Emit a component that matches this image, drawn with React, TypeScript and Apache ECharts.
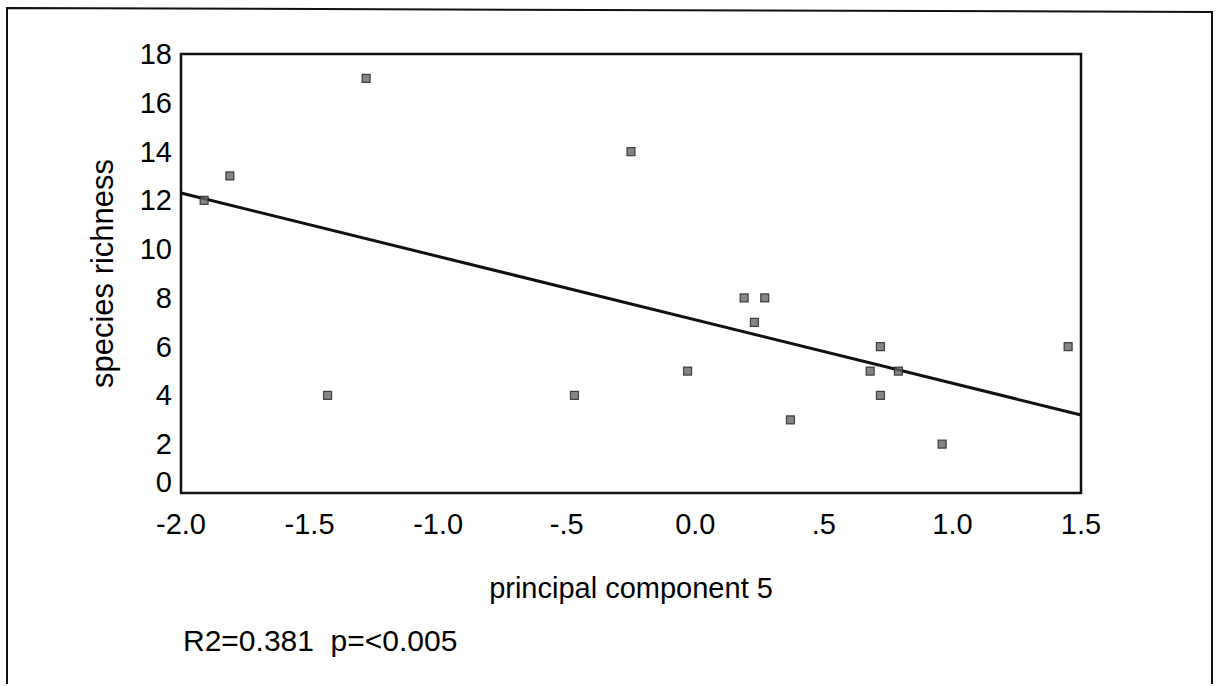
import React, { useEffect, useRef } from "react";
import * as echarts from "echarts";

const pcScores = [-1.91, -1.81, -1.28, -1.43, -0.47, -0.25, 0.19, 0.27, 0.23, 0.72, 1.45, -0.03, 0.68, 0.79, 0.72, 0.37, 0.96];
const richness = [12, 13, 17, 4, 4, 14, 8, 8, 7, 6, 6, 5, 5, 5, 4, 3, 2];
const fitX = [-2.0, 1.5];
const fitY = [12.3, 3.2];
const xTickLabels = ["-2.0", "-1.5", "-1.0", "-.5", "0.0", ".5", "1.0", "1.5"];
const yTickValues = [0, 2, 4, 6, 8, 10, 12, 14, 16, 18];
const xAxisTitle = "principal component 5";
const yAxisTitle = "species richness";
const statsNote = "R2=0.381  p=<0.005";

const FONT = "'Liberation Sans', Arial, sans-serif";

export default function App() {
  const ref = useRef<HTMLDivElement>(null);
  useEffect(() => {
    document.body.style.margin = "0";
    const chart = echarts.init(ref.current!, null, { renderer: "svg" });
    const points = pcScores.map((x, i) => [x, richness[i]]);
    const fit = fitX.map((x, i) => [x, fitY[i]]);
    chart.setOption({
      animation: false,
      backgroundColor: "#ffffff",
      textStyle: { fontFamily: FONT },
      grid: {
        left: 181,
        top: 54,
        width: 900,
        height: 439,
        show: true,
        borderColor: "#111",
        borderWidth: 2.5,
        backgroundColor: "transparent",
      },
      xAxis: {
        type: "value",
        min: -2,
        max: 1.5,
        interval: 0.5,
        name: xAxisTitle,
        nameLocation: "middle",
        nameGap: 80,
        nameTextStyle: { fontSize: 29, color: "#000", fontFamily: FONT },
        axisLine: { show: false },
        axisTick: { show: false },
        splitLine: { show: false },
        axisLabel: {
          fontSize: 29,
          color: "#000",
          margin: 16,
          fontFamily: FONT,
          formatter: (v: number) => {
            const idx = Math.round((v + 2) / 0.5);
            return xTickLabels[idx] ?? "";
          },
        },
      },
      yAxis: {
        type: "value",
        min: yTickValues[0],
        max: yTickValues[yTickValues.length - 1],
        interval: 2,
        name: yAxisTitle,
        nameLocation: "middle",
        nameGap: 63,
        nameTextStyle: { fontSize: 31, color: "#000", fontFamily: FONT },
        axisLine: { show: false },
        axisTick: { show: false },
        splitLine: { show: false },
        axisLabel: {
          fontSize: 29,
          color: "#000",
          margin: 9,
          fontFamily: FONT,
          formatter: (v: number) => (v === 0 ? "{z|0}" : String(v)),
          rich: {
            z: { fontSize: 29, color: "#000", fontFamily: FONT, padding: [0, 0, 22, 0] },
          },
        },
      },
      series: [
        {
          type: "line",
          data: fit,
          symbol: "none",
          lineStyle: { color: "#111", width: 3 },
          silent: true,
          z: 2,
        },
        {
          type: "scatter",
          data: points,
          symbol: "rect",
          symbolSize: 8,
          itemStyle: { color: "#666", borderColor: "#222", borderWidth: 1.2 },
          z: 3,
        },
      ],
      graphic: [
        {
          type: "polyline",
          shape: { points: [[7, 684], [7, 8], [1212, 12], [1212, 684]] },
          style: { stroke: "#111", lineWidth: 2, fill: "none" },
        },
        {
          type: "text",
          left: 183,
          top: 625,
          style: { text: statsNote, fontSize: 30, fill: "#000", fontFamily: FONT },
        },
      ],
    });
    return () => chart.dispose();
  }, []);
  return <div ref={ref} style={{ position: "fixed", left: 0, top: 0, width: 1217, height: 686 }} />;
}
